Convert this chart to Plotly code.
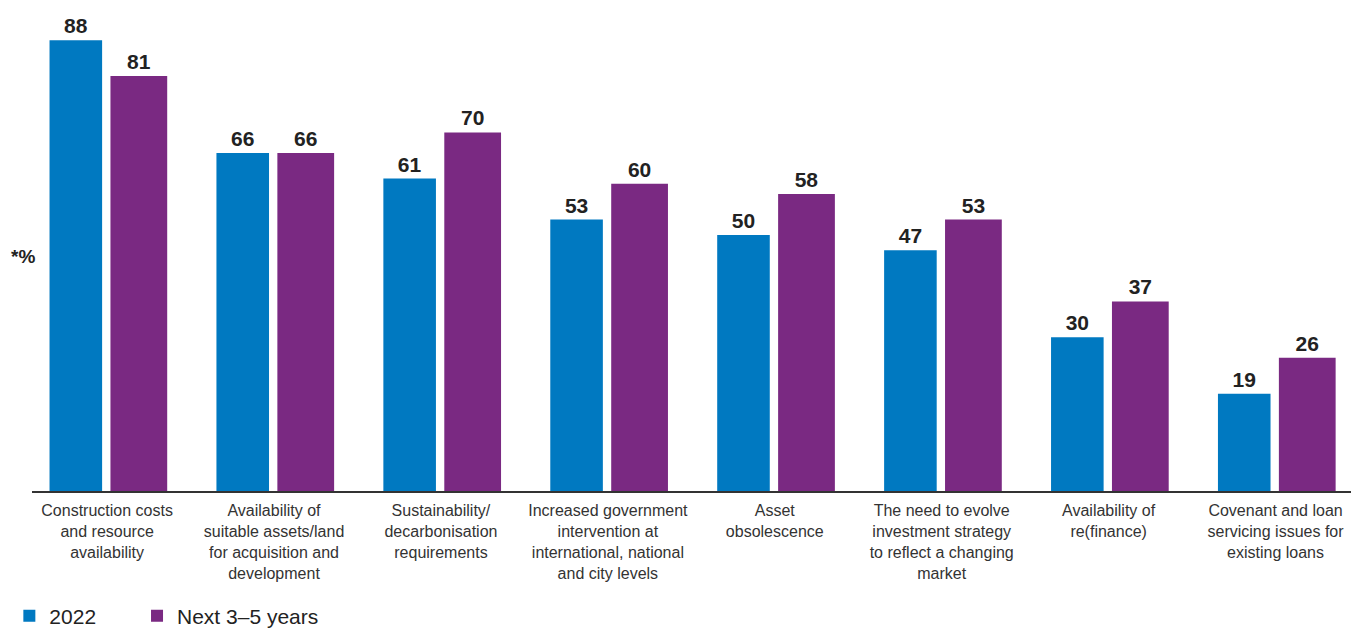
import plotly.graph_objects as go

categories = [
    "Construction costs<br>and resource<br>availability",
    "Availability of<br>suitable assets/land<br>for acquisition and<br>development",
    "Sustainability/<br>decarbonisation<br>requirements",
    "Increased government<br>intervention at<br>international, national<br>and city levels",
    "Asset<br>obsolescence",
    "The need to evolve<br>investment strategy<br>to reflect a changing<br>market",
    "Availability of<br>re(finance)",
    "Covenant and loan<br>servicing issues for<br>existing loans",
]
values_2022 = [88, 66, 61, 53, 50, 47, 30, 19]
values_next = [81, 66, 70, 60, 58, 53, 37, 26]
series_names = ["2022", "Next 3\u20135 years"]

BLUE = "#0079C1"
PURPLE = "#7A2982"
FONT = "Liberation Sans, Arial, Helvetica, sans-serif"

x_idx = list(range(len(categories)))

fig = go.Figure()
fig.add_trace(go.Bar(
    x=x_idx, y=values_2022, name=series_names[0], legend="legend",
    marker=dict(color=BLUE, line=dict(width=0)),
    width=0.315, offset=-0.345,
    text=[str(v) for v in values_2022], textposition="outside",
    textfont=dict(size=21, color="#222222", family=FONT),
    texttemplate="<b>%{text}</b>", cliponaxis=False,
))
fig.add_trace(go.Bar(
    x=x_idx, y=values_next, name=series_names[1], legend="legend2",
    marker=dict(color=PURPLE, line=dict(width=0)),
    width=0.34, offset=0.02,
    text=[str(v) for v in values_next], textposition="outside",
    textfont=dict(size=21, color="#222222", family=FONT),
    texttemplate="<b>%{text}</b>", cliponaxis=False,
))

legend_style = dict(
    orientation="h", xref="container", yref="container",
    y=0.019, xanchor="left", yanchor="middle",
    font=dict(size=21, color="#222222", family=FONT),
    itemsizing="constant", bgcolor="rgba(0,0,0,0)",
)

# page body has an 8px margin, so the figure is sized to fit the 1359x628 window
fig.update_layout(
    width=1351, height=620,
    margin=dict(l=24, r=0, t=0, b=137, autoexpand=False),
    paper_bgcolor="white", plot_bgcolor="white",
    font=dict(family=FONT, color="#333333"),
    barmode="overlay",
    showlegend=True,
    legend=dict(x=0.001, **legend_style),
    legend2=dict(x=0.0955, **legend_style),
)
fig.update_xaxes(
    tickmode="array", tickvals=x_idx, ticktext=categories,
    range=[-0.45, 7.5], automargin=False,
    showline=True, linecolor="#333333", linewidth=2,
    ticks="", showgrid=False, zeroline=False,
    tickfont=dict(size=16, color="#333333", family=FONT),
    ticklabelstandoff=4,
    fixedrange=True,
)
fig.update_yaxes(
    range=[0, 94.3], automargin=False, showticklabels=False, showgrid=False,
    zeroline=False, showline=False, ticks="", fixedrange=True,
)
fig.add_annotation(
    text="<b>*%</b>", xref="paper", yref="paper",
    x=-0.0068, y=0.4845, xanchor="center", yanchor="middle",
    showarrow=False, font=dict(size=19, color="#222222", family=FONT),
)

fig.write_html("out.html")
